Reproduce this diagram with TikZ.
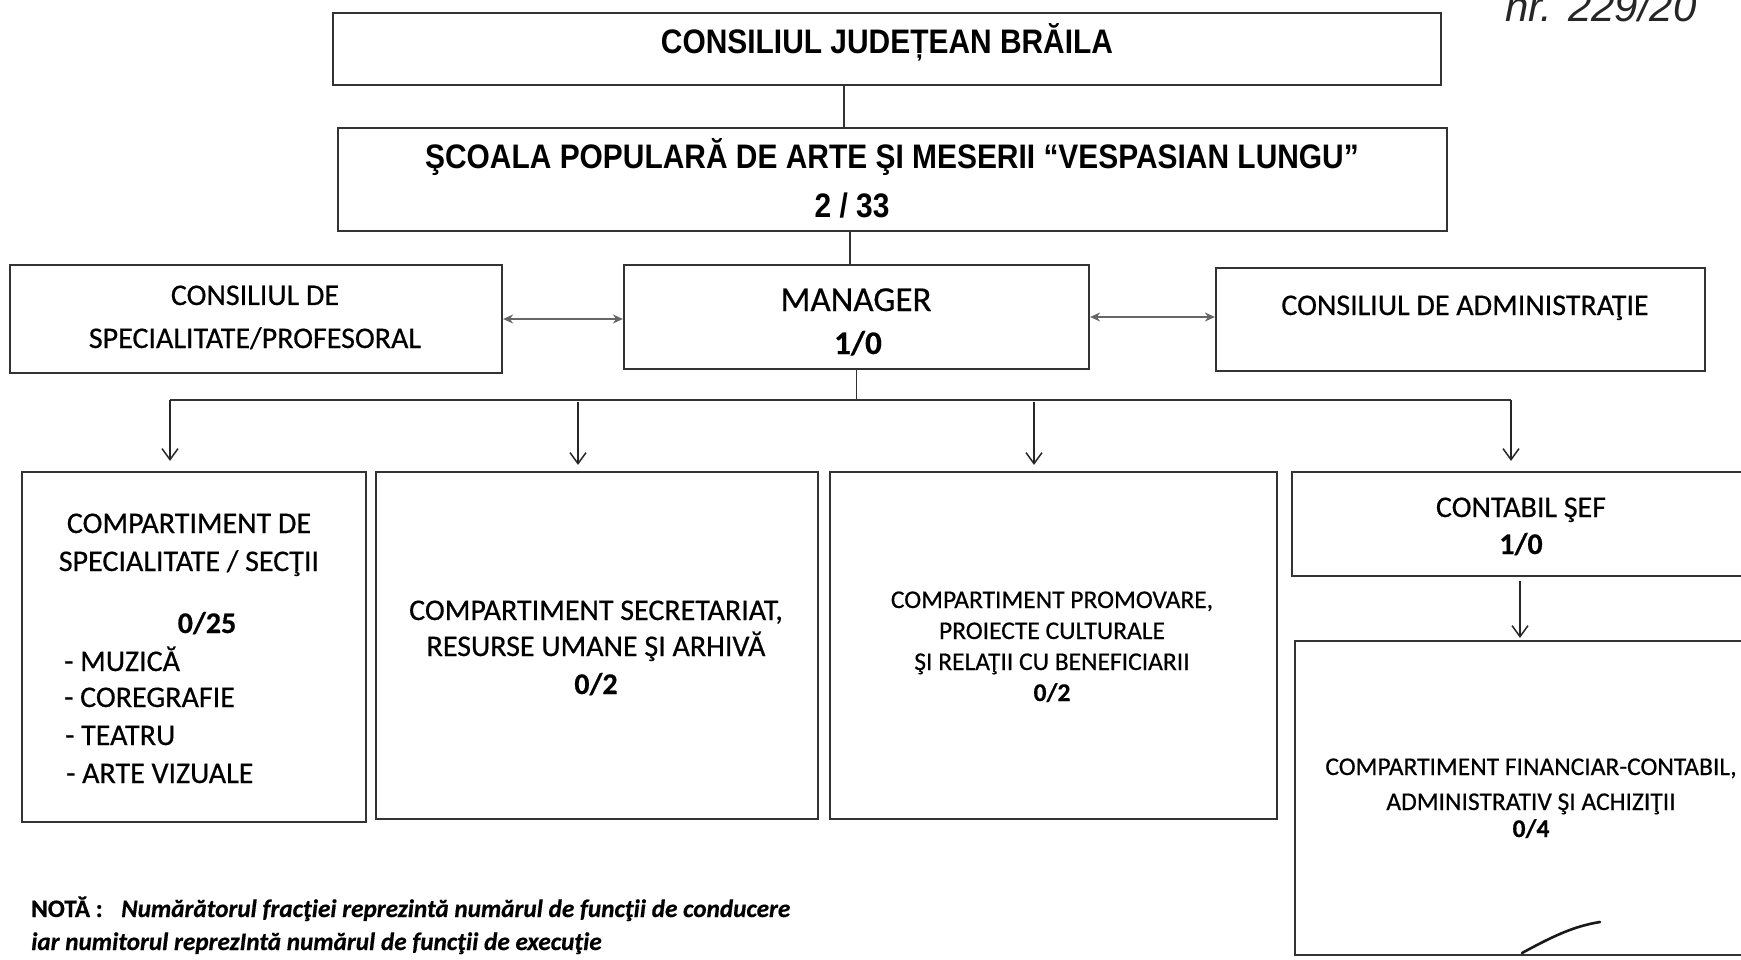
\documentclass[tikz,border=0pt]{standalone}
\usepackage{fontspec}
\setmainfont{Carlito}[FakeBold=0.5]
\newfontfamily\arialc[FakeStretch=0.88]{Liberation Sans}
\newfontfamily\handf{Liberation Sans}
\usetikzlibrary{arrows.meta}
\begin{document}
\begin{tikzpicture}[x=1pt,y=-1pt,
  box/.style={draw=black!80, line width=2.2pt, rectangle, inner sep=0pt},
  line/.style={draw=black!80, line width=1.6pt},
  darr/.style={draw=black!85, line width=1.5pt, -{Straight Barb[length=11pt,width=16pt,line width=1.5pt]}},
  harr/.style={draw=black!60, line width=2.4pt, {Stealth[length=10pt,width=9pt]}-{Stealth[length=10pt,width=9pt]}},
  tarial/.style={anchor=base, inner sep=0pt, font=\arialc\bfseries\fontsize{34}{40}\selectfont},
  tlab/.style={anchor=base, inner sep=0pt, font=\fontsize{30}{36}\selectfont},
  tnum/.style={anchor=base, inner sep=0pt, font=\bfseries\fontsize{30}{36}\selectfont},
  tsmall/.style={anchor=base, inner sep=0pt, font=\fontsize{25.5}{30}\selectfont},
  tsmallb/.style={anchor=base, inner sep=0pt, font=\bfseries\fontsize{25.5}{30}\selectfont},
  tnote/.style={anchor=base west, inner sep=0pt, font=\bfseries\itshape\fontsize{25.2}{28}\selectfont}
]
\useasboundingbox (0,0) rectangle (1741,960);
\fill[white] (0,0) rectangle (1741,960);

% boxes
\node[box, minimum width=1108pt, minimum height=72pt] (top) at (887,49) {};
\node[box, minimum width=1109pt, minimum height=103pt] (scoala) at (892.5,179.5) {};
\node[box, minimum width=492pt, minimum height=108pt] (spec) at (256,319) {};
\node[box, minimum width=465pt, minimum height=104pt] (mgr) at (856.5,317) {};
\node[box, minimum width=489pt, minimum height=103pt] (adm) at (1460.5,319.5) {};
\node[box, minimum width=344pt, minimum height=350pt] (boxA) at (194,647) {};
\node[box, minimum width=442pt, minimum height=347pt] (boxB) at (597,645.5) {};
\node[box, minimum width=447pt, minimum height=347pt] (boxC) at (1053.5,645.5) {};
\node[box, minimum width=458pt, minimum height=104pt] (boxD) at (1521,524) {};
\node[box, minimum width=472pt, minimum height=314pt] (boxE) at (1531,798) {};

% texts
\node[tarial] (ttop) at (887,54) {CONSILIUL JUDEȚEAN BRĂILA};
\node[tarial] (tsc1) at (892,169) {ŞCOALA POPULARĂ DE ARTE ŞI MESERII “VESPASIAN LUNGU”};
\node[tarial] (tsc2) at (852,218) {2 / 33};

\node[tlab] (tsp1) at (255,305) {CONSILIUL DE};
\node[tlab] (tsp2) at (255,348) {SPECIALITATE/PROFESORAL};
\node[tlab, font=\fontsize{35}{40}\selectfont] (tmg1) at (856,311) {MANAGER};
\node[tnum, font=\bfseries\fontsize{33}{40}\selectfont] (tmg2) at (858,354) {1/0};
\node[tlab] (tadm) at (1465,315) {CONSILIUL DE ADMINISTRAŢIE};

\node[tlab] (ta1) at (189,533) {COMPARTIMENT DE};
\node[tlab] (ta2) at (189,571) {SPECIALITATE / SECŢII};
\node[tnum] (ta3) at (207,633) {0/25};
\node[tlab, anchor=base west] (ta4) at (64,671) {- MUZICĂ};
\node[tlab, anchor=base west] (ta5) at (64,707) {- COREGRAFIE};
\node[tlab, anchor=base west] (ta6) at (65,745) {- TEATRU};
\node[tlab, anchor=base west] (ta7) at (66,783) {- ARTE VIZUALE};

\node[tlab] (tb1) at (596,620) {COMPARTIMENT SECRETARIAT,};
\node[tlab] (tb2) at (596,656) {RESURSE UMANE ŞI ARHIVĂ};
\node[tnum] (tb3) at (596,694) {0/2};

\node[tsmall] (tc1) at (1052,608) {COMPARTIMENT PROMOVARE,};
\node[tsmall] (tc2) at (1052,639) {PROIECTE CULTURALE};
\node[tsmall] (tc3) at (1052,670) {ŞI RELAŢII CU BENEFICIARII};
\node[tsmallb] (tc4) at (1052,701) {0/2};

\node[tlab] (td1) at (1521,517) {CONTABIL ŞEF};
\node[tnum] (td2) at (1521,554) {1/0};

\node[tsmall] (te1) at (1531,775) {COMPARTIMENT FINANCIAR-CONTABIL,};
\node[tsmall] (te2) at (1531,810) {ADMINISTRATIV ŞI ACHIZIŢII};
\node[tsmallb] (te3) at (1531,837) {0/4};

\node[tnote] (n1) at (31,917) {\upshape NOTĂ :};
\node[tnote] (n2) at (121,917) {Numărătorul fracţiei reprezintă numărul de funcţii de conducere};
\node[tnote] (n3) at (31,950) {iar numitorul reprezIntă numărul de funcţii de execuţie};

% handwriting
\node[anchor=base west, inner sep=0pt, font=\handf\itshape\fontsize{42}{46}\selectfont, text=black!85] (hw) at (1505,22) {nr. 229/20};
\draw[line width=2.6pt, line cap=round, draw=black!90] (1522,953) .. controls (1555,935) and (1575,926) .. (1600,922);

% connectors
\draw[line] (844,0 |- top.south) -- (844,0 |- scoala.north);
\draw[line] (850,0 |- scoala.south) -- (850,0 |- mgr.north);
\draw[harr] (spec.east) -- (spec.east -| mgr.west);
\draw[harr] (mgr.east) -- (mgr.east -| adm.west);
\coordinate (busL) at (170,400);
\coordinate (busR) at (1511,400);
\coordinate (b2) at (578,402);
\coordinate (b3) at (1034,402);
\draw[line] (mgr.south) -- (mgr.south |- busL);
\draw[line] (busL) -- (busR);
\draw[darr, shorten >=10pt] (busL) -- (busL |- boxA.north);
\draw[darr, shorten >=10pt] (busR) -- (busR |- boxD.north);
\draw[darr, shorten >=6pt] (b2) -- (b2 |- boxB.north);
\draw[darr, shorten >=6pt] (b3) -- (b3 |- boxC.north);
\draw[darr, shorten <=4pt, shorten >=2pt] (1520,0 |- boxD.south) -- (1520,0 |- boxE.north);
\end{tikzpicture}
\end{document}
